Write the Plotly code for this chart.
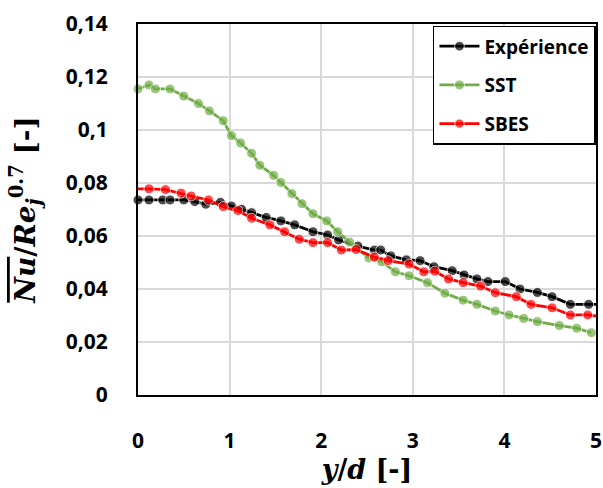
import plotly.graph_objects as go

exp_x = [0.0, 0.12, 0.27, 0.35, 0.50, 0.62, 0.74, 0.90, 1.02, 1.13, 1.24, 1.40, 1.56, 1.71, 1.91, 2.07, 2.19, 2.40,
         2.58, 2.65, 2.76, 2.93, 3.08, 3.23, 3.43, 3.56, 3.70, 3.82, 4.01, 4.17, 4.36, 4.52, 4.72, 4.92, 5.0]
exp_y = [0.0736, 0.0736, 0.0736, 0.0736, 0.0736, 0.0730, 0.0720, 0.0727, 0.0713, 0.0701, 0.0688, 0.0670, 0.0657, 0.0642, 0.0616, 0.0604, 0.0585, 0.0562,
         0.0547, 0.0547, 0.0525, 0.0510, 0.0507, 0.0484, 0.0469, 0.0453, 0.0438, 0.0428, 0.0428, 0.0400, 0.0387, 0.0371, 0.0342, 0.0342, 0.0342]

sst_x = [0.0, 0.12, 0.19, 0.35, 0.50, 0.66, 0.78, 0.93, 1.02, 1.12, 1.24, 1.33, 1.48, 1.56, 1.68, 1.79, 1.91, 2.06, 2.18, 2.31,
         2.52, 2.66, 2.81, 2.96, 3.16, 3.35, 3.55, 3.70, 3.90, 4.05, 4.21, 4.36, 4.60, 4.79, 4.95]
sst_y = [0.1155, 0.1170, 0.1155, 0.1155, 0.1128, 0.1100, 0.1072, 0.1035, 0.0979, 0.0951, 0.0912, 0.0867, 0.0829, 0.0802, 0.0760, 0.0722, 0.0684, 0.0657, 0.0616, 0.0577,
         0.0517, 0.0503, 0.0465, 0.0450, 0.0424, 0.0384, 0.0358, 0.0342, 0.0317, 0.0302, 0.0289, 0.0277, 0.0262, 0.0252, 0.0235]

sbes_x = [0.0, 0.12, 0.30, 0.47, 0.58, 0.77, 0.93, 1.09, 1.24, 1.44, 1.60, 1.76, 1.91, 2.07, 2.22, 2.38,
          2.58, 2.73, 2.96, 3.12, 3.24, 3.39, 3.55, 3.74, 3.90, 4.13, 4.29, 4.52, 4.72, 4.91, 5.0]
sbes_y = [0.0778, 0.0778, 0.0775, 0.0762, 0.0751, 0.0736, 0.0711, 0.0696, 0.0667, 0.0642, 0.0616, 0.0588, 0.0575, 0.0575, 0.0547, 0.0549,
          0.0520, 0.0507, 0.0494, 0.0465, 0.0467, 0.0438, 0.0424, 0.0411, 0.0386, 0.0371, 0.0342, 0.0329, 0.0302, 0.0302, 0.0298]

y_ticks = [0, 0.02, 0.04, 0.06, 0.08, 0.10, 0.12, 0.14]
y_labels = ["0", "0,02", "0,04", "0,06", "0,08", "0,1", "0,12", "0,14"]
x_ticks = [0, 1, 2, 3, 4, 5]
x_labels = ["0", "1", "2", "3", "4", "5"]

# which points carry a visible marker (line end points at the axes have none)
exp_marked = [True] * (len(exp_x) - 1) + [False]
sst_marked = [True] * len(sst_x)
sbes_marked = [False] + [True] * (len(sbes_x) - 2) + [False]

series = [
    ("Expérience", exp_x, exp_y, "#000000", exp_marked),
    ("SST", sst_x, sst_y, "#70ad47", sst_marked),
    ("SBES", sbes_x, sbes_y, "#ff0000", sbes_marked),
]

fig = go.Figure()
for name, xs, ys, col, mask in series:
    sizes = [10 if m else 0 for m in mask]
    fig.add_trace(go.Scatter(
        x=xs, y=ys, name=name, mode="lines+markers",
        line=dict(color=col, width=2.8),
        marker=dict(color=col, size=sizes),
        legendgroup=name,
        cliponaxis=False,
    ))

tick_font = dict(family="Open Sans", size=21, color="black", weight="bold")

fig.update_layout(
    width=603, height=488,
    margin=dict(l=138, r=7, t=24, b=93),
    paper_bgcolor="white", plot_bgcolor="white",
    showlegend=True,
    legend=dict(
        x=0.644, y=0.995, xanchor="left", yanchor="top",
        bgcolor="white", bordercolor="black", borderwidth=1.5,
        font=dict(family="Open Sans", size=19, color="black", weight="bold"),
        tracegroupgap=11, itemwidth=40,
    ),
    xaxis=dict(
        range=[0, 5], tickvals=x_ticks, ticktext=x_labels, automargin=False,
        showgrid=True, gridcolor="#d9d9d9", gridwidth=1.5,
        showline=True, linecolor="black", linewidth=2, mirror=True,
        ticks="", zeroline=False, tickfont=tick_font, ticklabelstandoff=26,
        title=dict(text="<i>y</i>/<i>d</i> [-]",
                   font=dict(family="DejaVu Serif", size=27, color="black", weight="bold"),
                   standoff=0),
    ),
    yaxis=dict(
        range=[0, 0.14], tickvals=y_ticks, ticktext=y_labels, automargin=False,
        showgrid=True, gridcolor="#d9d9d9", gridwidth=1.5,
        showline=True, linecolor="black", linewidth=2, mirror=True,
        ticks="", zeroline=False, tickfont=tick_font, ticklabelstandoff=24,
        title=dict(text="<span style=\"text-decoration:overline\"><i>Nu</i></span>/<i>Re</i><sub><i>j</i></sub><sup>0.7</sup> [-]",
                   font=dict(family="DejaVu Serif", size=28, color="black", weight="bold"),
                   standoff=22),
    ),
)

fig.write_html("out.html", config={"displayModeBar": False},
               post_script="document.body.style.margin='0';document.body.style.padding='0';")
